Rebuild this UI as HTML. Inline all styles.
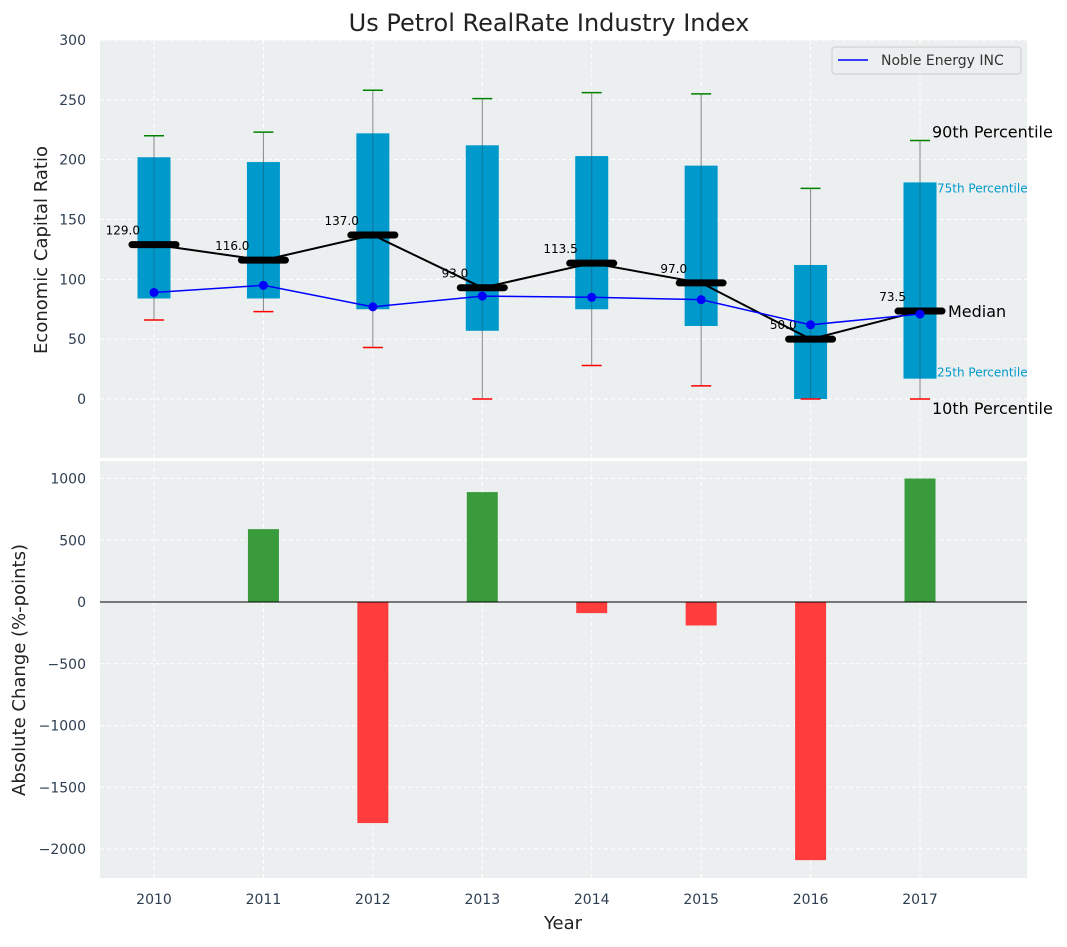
<!DOCTYPE html>
<html><head><meta charset="utf-8"><style>
body{margin:0;background:#fff;font-family:"Liberation Sans","DejaVu Sans",sans-serif}
svg text{font-family:"DejaVu Sans","Liberation Sans",sans-serif}
</style></head><body>
<svg id="c" width="1067" height="942" xmlns="http://www.w3.org/2000/svg"></svg>
<script>
const years=[2010,2011,2012,2013,2014,2015,2016,2017];
const p10=[66,73,43,0,28,11,0,0];
const p25=[84,84,75,57,75,61,0,17];
const p75=[202,198,222,212,203,195,112,181];
const p90=[220,223,258,251,256,255,176,216];
const medians=[129,116,137,93,113.5,97,50,73.5];
const noble=[89,95,77,86,85,83,62,71];
const changes=[0,590,-1790,890,-90,-190,-2090,1000];
const topTicks=[0,50,100,150,200,250,300];
const botTicks=[-2000,-1500,-1000,-500,0,500,1000];

const NS='http://www.w3.org/2000/svg';
const svg=document.getElementById('c');
function el(t,a,p){const e=document.createElementNS(NS,t);for(const k in a)e.setAttribute(k,a[k]);(p||svg).appendChild(e);return e;}
const X0=100,X1=1027;
const xs=i=>154+i*109.43;
const yT=v=>399-v*1.1967;
const yB=v=>602-v*0.1235;
const T0=40,T1=458,B0=461,B1=878;

let e;
e=el('rect',{x:X0,y:T0,width:X1-X0,height:T1-T0,fill:'#ebeff0'});

e=el('rect',{x:X0,y:B0,width:X1-X0,height:B1-B0,fill:'#ebeff0'});


years.forEach((y,i)=>{
 el('line',{x1:xs(i),x2:xs(i),y1:T0,y2:T1,stroke:'#fff','stroke-dasharray':'4,3'});
 el('line',{x1:xs(i),x2:xs(i),y1:B0,y2:B1,stroke:'#fff','stroke-dasharray':'4,3'});
 e=el('text',{x:xs(i),y:904,'text-anchor':'middle','font-size':14,fill:'#2d3e50'});e.textContent=y;
 
});
topTicks.forEach(v=>{
 el('line',{x1:X0,x2:X1,y1:yT(v),y2:yT(v),stroke:'#fff','stroke-dasharray':'4,3'});
 e=el('text',{x:86,y:yT(v)+5,'text-anchor':'end','font-size':14,fill:'#2d3e50'});e.textContent=v;
 
});
botTicks.forEach(v=>{
 el('line',{x1:X0,x2:X1,y1:yB(v),y2:yB(v),stroke:'#fff','stroke-dasharray':'4,3'});
 e=el('text',{x:86,y:yB(v)+5,'text-anchor':'end','font-size':14,fill:'#2d3e50'});e.textContent=String(v).replace('-','−');
 
});

years.forEach((y,i)=>{
 const x=xs(i);
 e=el('line',{x1:x,x2:x,y1:yT(p90[i]),y2:yT(p10[i]),stroke:'#888','stroke-width':1});
 
 e=el('rect',{x:x-16.5,y:yT(p75[i]),width:33,height:yT(p25[i])-yT(p75[i]),fill:'#0099cc'});
 
 el('line',{x1:x,x2:x,y1:yT(p75[i]),y2:yT(p25[i]),stroke:'#1a5f77','stroke-width':1,opacity:0.6});
 e=el('line',{x1:x-10,x2:x+10,y1:yT(p90[i]),y2:yT(p90[i]),stroke:'green','stroke-width':1.5});
 
 e=el('line',{x1:x-10,x2:x+10,y1:yT(p10[i]),y2:yT(p10[i]),stroke:'red','stroke-width':1.5});
 
});
e=el('polyline',{points:medians.map((v,i)=>xs(i)+','+yT(v)).join(' '),fill:'none',stroke:'#000','stroke-width':2});

medians.forEach((v,i)=>{
 e=el('line',{x1:xs(i)-22,x2:xs(i)+22,y1:yT(v),y2:yT(v),stroke:'#000','stroke-width':7,'stroke-linecap':'round'});
 
 e=el('text',{x:xs(i)-14,y:yT(v)-10,'text-anchor':'end','font-size':12,fill:'#000'});e.textContent=v.toFixed(1);
 
});
e=el('polyline',{points:noble.map((v,i)=>xs(i)+','+yT(v)).join(' '),fill:'none',stroke:'blue','stroke-width':1.5});

noble.forEach((v,i)=>{
 e=el('circle',{cx:xs(i),cy:yT(v),r:4.5,fill:'blue'});
 
});
const L=7,lx=xs(L);
[[p90[L],'90th Percentile',12,16,'#000',-3],[p75[L],'75th Percentile',17,12,'#0099cc',10],[medians[L],'Median',28,16,'#000',6],[p25[L],'25th Percentile',17,12,'#0099cc',-2],[p10[L],'10th Percentile',12,16,'#000',15]].forEach(a=>{
 e=el('text',{x:lx+a[2],y:yT(a[0])+a[5],'font-size':a[3],fill:a[4]});
 e.textContent=a[1];
 
});
changes.forEach((v,i)=>{
 if(v===0)return;
 const y1=yB(Math.max(v,0)),y2=yB(Math.min(v,0));
 e=el('rect',{x:xs(i)-15.5,y:y1,width:31,height:y2-y1,fill:v>0?'#3a9b3d':'#ff3d3d'});
 
});
e=el('line',{x1:X0,x2:X1,y1:yB(0),y2:yB(0),stroke:'#000','stroke-width':1});


e=el('rect',{x:832,y:47,width:189,height:27,rx:3,fill:'#ebeff0',stroke:'#ccc'});

el('line',{x1:838,x2:868,y1:60,y2:60,stroke:'blue','stroke-width':1.5});
e=el('text',{x:881,y:65,'font-size':14,fill:'#333'});e.textContent='Noble Energy INC';


e=el('text',{x:549,y:31,'text-anchor':'middle','font-size':24,fill:'#222'});e.textContent='Us Petrol RealRate Industry Index';

e=el('text',{x:563,y:929,'text-anchor':'middle','font-size':18,fill:'#222'});e.textContent='Year';

e=el('text',{x:0,y:0,'text-anchor':'middle','font-size':18,fill:'#222',transform:'translate(47,250) rotate(-90)'});e.textContent='Economic Capital Ratio';

e=el('text',{x:0,y:0,'text-anchor':'middle','font-size':18,fill:'#222',transform:'translate(25,670) rotate(-90)'});e.textContent='Absolute Change (%-points)';

</script>
</body></html>
